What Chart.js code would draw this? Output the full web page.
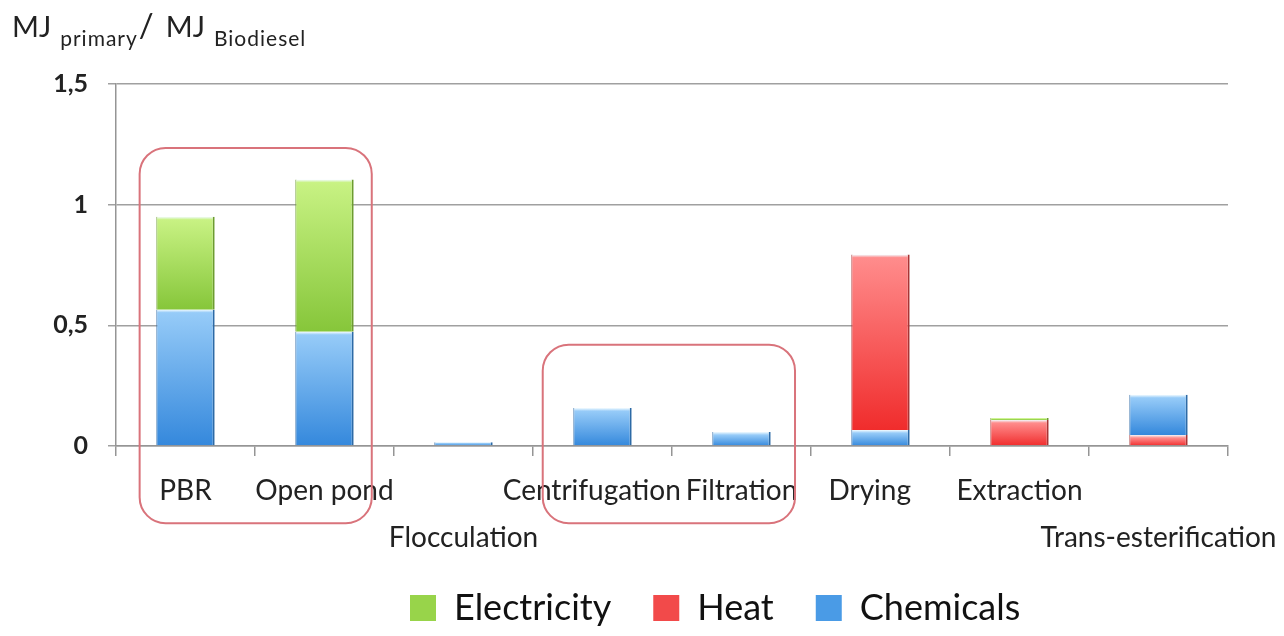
<!DOCTYPE html>
<html>
<head>
<meta charset="utf-8">
<script src="https://cdn.jsdelivr.net/npm/chart.js@4.4.1/dist/chart.umd.min.js"></script>
<style>
  body { margin: 0; background: #fff; }
  #wrap { position: relative; width: 1284px; height: 636px; }
  #unit { position: absolute; left: 12px; top: 4px; font-family: Lato, sans-serif; color: #222; font-size: 29px; white-space: nowrap; }
  #unit .s { position: relative; top: 9px; font-size: 21px; letter-spacing: 1px; margin-left: 9px; }
  #unit .sl { font-size: 33px; margin-left: 1px; margin-right: 12px; }
</style>
</head>
<body>
<div id="wrap">
  <canvas id="myChart" width="1284" height="636"></canvas>
  <div id="unit">MJ<span class="s">primary</span><span class="sl">/</span>MJ<span class="s">Biodiesel</span></div>
</div>
<script>
const categories = ['PBR', 'Open pond', 'Flocculation', 'Centrifugation', 'Filtration', 'Drying', 'Extraction', 'Trans-esterification'];
const chemicals = [0.565, 0.473, 0.016, 0.157, 0.058, 0.066, 0, 0];
const heat = [0, 0, 0, 0, 0, 0.727, 0.108, 0.046];
const chemicalsUpper = [0, 0, 0, 0, 0, 0, 0, 0.166];
const electricity = [0.385, 0.631, 0, 0, 0, 0, 0.008, 0];
const yTicks = [0, 0.5, 1, 1.5];
const legendOrder = ['Electricity', 'Heat', 'Chemicals'];
// these labels are pushed down one line in the original
const lowered = ['Flocculation', 'Trans-esterification'];
// and these sit a little left of their bar
const nudged = ['Centrifugation', 'Drying'];

const stacks = [chemicals, heat, chemicalsUpper, electricity];
const legendFill = { Electricity: '#98d44a', Heat: '#f24a4a', Chemicals: '#4a9be6' };

// vertical gradient per bar segment, light on top, darker at the base
function shade(light, dark, mid) {
  return function (ctx) {
    const chart = ctx.chart;
    const y = chart.scales && chart.scales.y;
    if (ctx.type !== 'data' || !y) return mid;
    let base = 0;
    for (let k = 0; k < ctx.datasetIndex; k++) base += stacks[k][ctx.dataIndex];
    const top = y.getPixelForValue(base + stacks[ctx.datasetIndex][ctx.dataIndex]);
    const bottom = y.getPixelForValue(base);
    if (!isFinite(top) || !isFinite(bottom) || bottom - top < 1) return mid;
    const h = bottom - top;
    const g = chart.ctx.createLinearGradient(0, top, 0, bottom);
    g.addColorStop(0, '#f2fbff');
    g.addColorStop(Math.min(3 / h, 0.3), light);
    g.addColorStop(1, dark);
    return g;
  };
}

const blue = shade('#96cbf8', '#3488dc', '#4a9be6');
const red = shade('#ff8c8c', '#f02c2c', '#f04848');
const green = shade('#c8f283', '#86c63a', '#98d44a');

// rounded outlines around the two groups
const outlines = {
  id: 'outlines',
  afterDraw(chart) {
    const x = chart.scales.x, y = chart.scales.y, c = chart.ctx;
    const step = x.getPixelForValue(1) - x.getPixelForValue(0);
    const groups = [
      { from: 0, to: 1, padL: 0.33, padR: 0.34, top: 1.235 },
      { from: 3, to: 4, padL: 0.43, padR: 0.385, top: 0.42 }
    ];
    c.save();
    c.strokeStyle = '#d9737b';
    c.lineWidth = 2;
    groups.forEach(g => {
      const l = x.getPixelForValue(g.from) - g.padL * step;
      const r = x.getPixelForValue(g.to) + g.padR * step;
      const t = y.getPixelForValue(g.top);
      const b = y.getPixelForValue(-0.32);
      const rad = 26;
      c.beginPath();
      c.moveTo(l + rad, t);
      c.arcTo(r, t, r, b, rad);
      c.arcTo(r, b, l, b, rad);
      c.arcTo(l, b, l, t, rad);
      c.arcTo(l, t, r, t, rad);
      c.closePath();
      c.stroke();
    });
    c.restore();
  }
};

const legendShift = {
  id: 'legendShift',
  afterLayout(chart) {
    chart.legend.left = 368;
  }
};

const common = {
  stack: 's',
  barPercentage: 0.42,
  categoryPercentage: 1,
  borderWidth: { left: 1, right: 2, top: 0, bottom: 0 },
  borderSkipped: false
};

var ctx = document.getElementById('myChart');
var myChart = new Chart(ctx, {
  type: 'bar',
  data: {
    labels: categories,
    datasets: [
      Object.assign({ label: 'Chemicals', data: chemicals, backgroundColor: blue, borderColor: '#2d6aa6' }, common),
      Object.assign({ label: 'Heat', data: heat, backgroundColor: red, borderColor: '#a83434' }, common),
      Object.assign({ label: 'Chemicals', data: chemicalsUpper, backgroundColor: blue, borderColor: '#2d6aa6' }, common),
      Object.assign({ label: 'Electricity', data: electricity, backgroundColor: green, borderColor: '#6c9c30' }, common)
    ]
  },
  options: {
    responsive: false,
    animation: false,
    layout: { padding: { top: 84, right: 56, left: 0, bottom: 0 } },
    scales: {
      x: {
        stacked: true,
        grid: { drawOnChartArea: false, offset: true, tickLength: 10, color: '#959595', lineWidth: 1.5 },
        border: { color: '#959595', width: 1.5 },
        ticks: {
          autoSkip: true,
          autoSkipPadding: -150,
          maxRotation: 0,
          padding: 11,
          color: '#222',
          font: { family: 'Lato', size: 28, lineHeight: 1.68 },
          callback: function (v, i) {
            let name = categories[i];
            if (nudged.includes(name)) name = name + '\u00a0\u00a0\u00a0';
            return lowered.includes(name) ? ['', name] : name;
          }
        },
        afterFit: function (scale) {
          scale.height = 102;
          scale.paddingLeft = 0;
          scale.paddingRight = 0;
        }
      },
      y: {
        stacked: true,
        min: 0,
        max: 1.5,
        afterBuildTicks: function (scale) {
          scale.ticks = yTicks.map(v => ({ value: v }));
        },
        grid: { color: '#a0a0a0', lineWidth: 1.5, tickLength: 8 },
        border: { color: '#959595', width: 1.5 },
        ticks: {
          padding: 20,
          color: '#222',
          font: { family: 'Lato', size: 25, weight: 'bold' },
          callback: function (v) { return String(v).replace('.', ','); }
        },
        afterFit: function (scale) {
          scale.width = 116;
        }
      }
    },
    plugins: {
      tooltip: { enabled: false },
      legend: {
        position: 'bottom',
        align: 'start',
        labels: {
          boxWidth: 26,
          boxHeight: 26,
          padding: 42,
          color: '#111',
          font: { family: 'Lato', size: 36 },
          generateLabels: function (chart) {
            const items = Chart.defaults.plugins.legend.labels.generateLabels(chart);
            items.forEach(it => { it.fillStyle = legendFill[it.text]; it.lineWidth = 0; });
            return items;
          },
          filter: function (item) { return item.datasetIndex !== 2; },
          sort: function (a, b) { return legendOrder.indexOf(a.text) - legendOrder.indexOf(b.text); }
        }
      }
    }
  },
  plugins: [outlines, legendShift]
});
</script>
</body>
</html>
